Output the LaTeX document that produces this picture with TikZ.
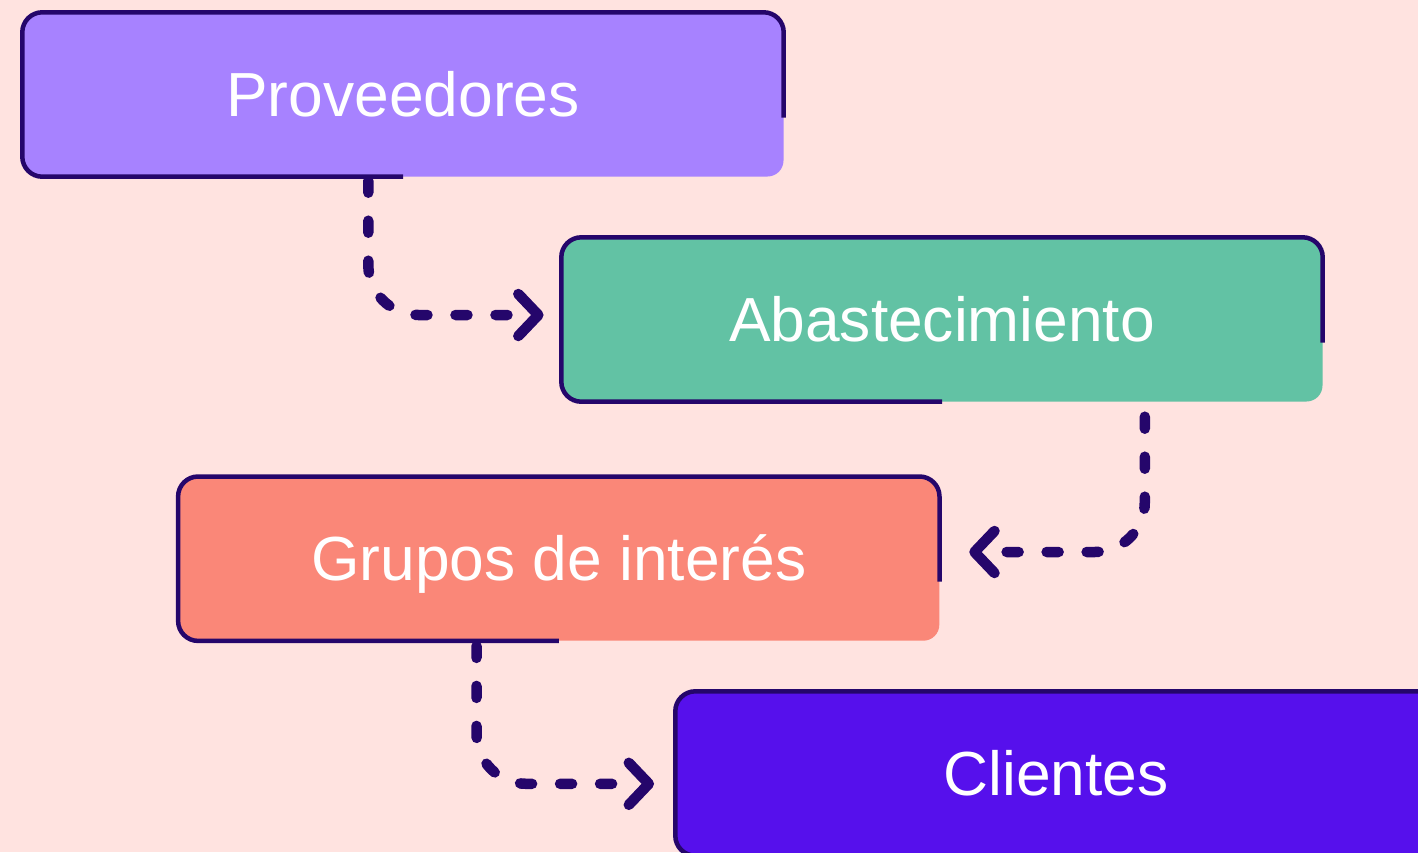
\documentclass[tikz,border=0pt]{standalone}
\usepackage{fontspec}
\setmainfont{Liberation Sans}
\usetikzlibrary{calc}
\definecolor{bg}{HTML}{FFE3E0}
\definecolor{ink}{HTML}{25066B}
\definecolor{cprov}{HTML}{A782FF}
\definecolor{cabas}{HTML}{62C2A4}
\definecolor{cgrup}{HTML}{FA8778}
\definecolor{cclie}{HTML}{5610EC}
\tikzset{
  box/.style={rectangle, rounded corners=16pt, minimum width=761pt, minimum height=164pt,
    inner sep=0pt, text=white, font=\fontsize{62.3}{70}\selectfont, text height=44.5pt, text depth=0pt},
  edgeline/.style={draw=ink, line width=4.5pt, rounded corners=20pt, line cap=butt},
  conn/.style={draw=ink, line width=10.5pt, line cap=round, dash pattern=on 12pt off 28pt, rounded corners=50pt},
  chev/.style={draw=ink, line width=10.5pt, line cap=round, line join=round}
}
\begin{document}
\begin{tikzpicture}[x=1pt,y=-1pt]
\useasboundingbox (0,0) rectangle (1418,852);
\fill[bg] (0,0) rectangle (1418,852);
% boxes
\node[box, fill=cprov] (prov) at (403,94.5) {Proveedores};
\node[box, fill=cabas] (abas) at (942,319.5) {Abastecimiento};
\node[box, fill=cgrup] (grup) at (558.8,558.7) {Grupos de interés};
\node[box, fill=cclie] (clie) at (1056,773.5) {Clientes};
% partial outlines
\foreach \n in {prov,abas,grup,clie}{
  \draw[edgeline] ($(\n.east)+(0,23)$) |- (\n.north west) |- (\n.south);
}
% connectors
\coordinate (t1) at ($(abas.west)+(-23,-4.5)$);
\coordinate (t2) at ($(grup.east)+(35,-6.7)$);
\coordinate (t3) at ($(clie.west)+(-26.5,10.3)$);
\draw[conn] ($(prov.south west)+(346,4)$) |- ($(t1)+(-24,0)$);
\draw[chev] ($(t1)+(-20,-21)$) -- (t1) -- ($(t1)+(-20,21)$);
\draw[conn] ($(abas.south west)+(583.5,15)$) |- ($(t2)+(24,0)$);
\draw[chev] ($(t2)+(20,-21)$) -- (t2) -- ($(t2)+(20,21)$);
\draw[conn] ($(grup.south west)+(298.4,5)$) |- ($(t3)+(-24,0)$);
\draw[chev] ($(t3)+(-20,-21)$) -- (t3) -- ($(t3)+(-20,21)$);
\end{tikzpicture}
\end{document}
